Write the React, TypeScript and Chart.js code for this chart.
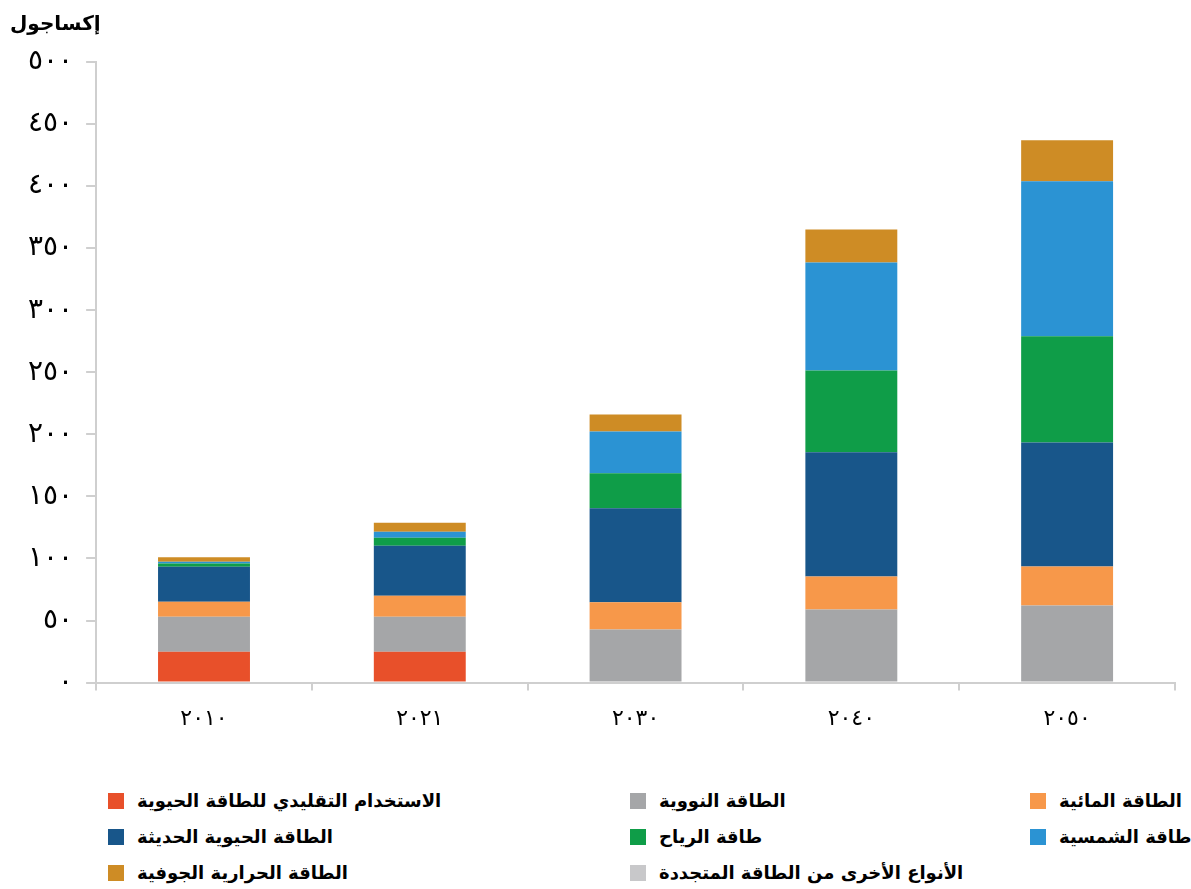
import React, { useEffect, useRef } from "react";
import { Chart, registerables } from "chart.js";

Chart.register(...registerables);

const categories = ["٢٠١٠", "٢٠٢١", "٢٠٣٠", "٢٠٤٠", "٢٠٥٠"];
const yTickLabels = ["٠", "٥٠", "١٠٠", "١٥٠", "٢٠٠", "٢٥٠", "٣٠٠", "٣٥٠", "٤٠٠", "٤٥٠", "٥٠٠"];
const yTitle = "إكساجول";

const traditionalBio = [24.8, 24.8, 0, 0, 0];
const nuclear = [28.2, 28.2, 42.7, 58.9, 62.1];
const hydro = [12.1, 16.9, 22, 26.6, 31.4];
const modernBio = [28.2, 40.3, 75.8, 100, 100];
const wind = [2.7, 6.5, 28.2, 66, 85.5];
const solar = [1.4, 4.8, 33.6, 87, 125];
const geothermal = [3.5, 7.3, 13.7, 26.6, 33];
const otherRenewables = [0, 0, 0, 0, 0];

const seriesNames = [
  "الاستخدام التقليدي للطاقة الحيوية",
  "الطاقة النووية",
  "الطاقة المائية",
  "الطاقة الحيوية الحديثة",
  "طاقة الرياح",
  "طاقة الشمسية",
  "الطاقة الحرارية الجوفية",
  "الأنواع الأخرى من الطاقة المتجددة",
];
const seriesColors = ["#E8502A", "#A5A6A8", "#F7984A", "#18568A", "#0F9D48", "#2B93D3", "#CE8C25", "#C8C8CA"];
const seriesValues = [traditionalBio, nuclear, hydro, modernBio, wind, solar, geothermal, otherRenewables];

const FONT = "'DejaVu Sans', sans-serif";

export default function App() {
  const ref = useRef<HTMLCanvasElement | null>(null);

  useEffect(() => {
    if (!ref.current) return;
    const chart = new Chart(ref.current, {
      type: "bar",
      data: {
        labels: categories,
        datasets: seriesValues.map((v, i) => ({
          label: seriesNames[i],
          data: v,
          backgroundColor: seriesColors[i],
          borderWidth: 0,
          categoryPercentage: 1,
          barPercentage: 0.426,
        })),
      },
      options: {
        animation: false,
        responsive: false,
        maintainAspectRatio: false,
        layout: { padding: { left: 15, right: 16, top: 62, bottom: 0 } },
        plugins: {
          legend: { display: false },
          tooltip: { enabled: false },
          title: { display: false },
        },
        scales: {
          x: {
            stacked: true,
            border: { display: true, color: "#cfcfcf", width: 2 },
            grid: { display: true, drawOnChartArea: false, drawTicks: true, tickLength: 8, color: "#cfcfcf", lineWidth: 2, offset: true },
            ticks: { color: "#000", font: { family: FONT, size: 22 }, padding: 15 },
          },
          y: {
            stacked: true,
            min: 0,
            max: 500,
            border: { display: true, color: "#cfcfcf", width: 2 },
            grid: { display: true, drawOnChartArea: false, drawTicks: true, tickLength: 10, color: "#cfcfcf", lineWidth: 2 },
            ticks: {
              stepSize: 50,
              color: "#000",
              font: { family: FONT, size: 28 },
              padding: 13,
              callback: (_v: any, i: number) => yTickLabels[i],
            },
          },
        },
      },
    });
    return () => chart.destroy();
  }, []);

  const columns = [
    [0, 3, 6],
    [1, 4, 7],
    [2, 5],
  ];
  const colLeft = [108, 630, 1030];

  return (
    <div style={{ position: "relative", width: 1191, height: 889, overflow: "hidden", background: "#fff" }}>
      <style>{`body{margin:0;}`}</style>
      <div
        dir="rtl"
        style={{ position: "absolute", left: 10, top: 8, fontFamily: FONT, fontWeight: "bold", fontSize: 20, color: "#000", lineHeight: "30px" }}
      >
        {yTitle}
      </div>
      <canvas ref={ref} width={1191} height={747} style={{ width: 1191, height: 747, display: "block" }} />
      {columns.map((col, ci) => (
        <div key={ci} style={{ position: "absolute", left: colLeft[ci], top: 791 }}>
          {col.map((si) => (
            <div key={si} style={{ display: "flex", alignItems: "center", height: 20, marginBottom: 16 }}>
              <span style={{ width: 16, height: 16, background: seriesColors[si], display: "inline-block", marginRight: 13 }} />
              <span dir="rtl" style={{ fontFamily: FONT, fontWeight: "bold", fontSize: 18, color: "#000", whiteSpace: "nowrap", lineHeight: "20px" }}>
                {seriesNames[si]}
              </span>
            </div>
          ))}
        </div>
      ))}
    </div>
  );
}
